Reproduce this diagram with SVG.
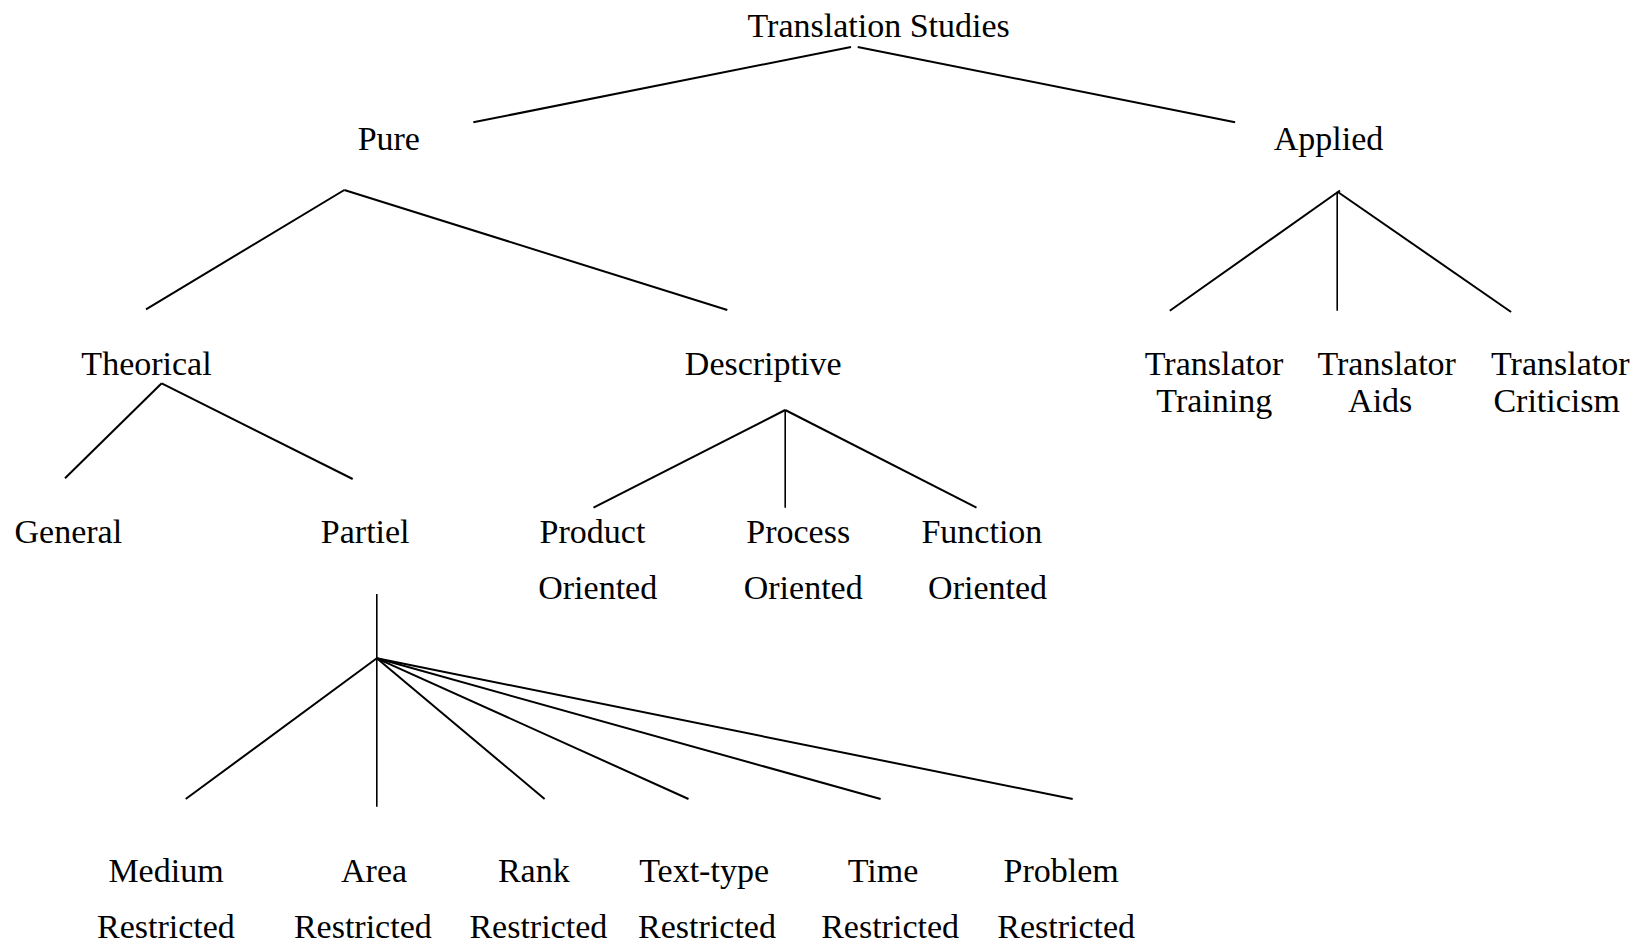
<svg xmlns="http://www.w3.org/2000/svg" width="1639" height="945" viewBox="0 0 1639 945">
<style>
text{font-family:"Liberation Serif","Times New Roman",serif;font-size:34px;fill:#000;text-anchor:middle}
.c line{stroke:#000;stroke-width:2;stroke-linecap:butt}
.c line.v{stroke-width:1.6}
</style>
<rect width="1639" height="945" fill="#fff"/>
<g class="c" id="connectors">
<line x1="851" y1="47" x2="473.3" y2="122.3"/>
<line x1="857.7" y1="47" x2="1235.1" y2="122.3"/>
<line x1="344.3" y1="190" x2="146" y2="309.3"/>
<line x1="344.3" y1="190" x2="727.3" y2="310"/>
<line x1="1340" y1="190.5" x2="1169.8" y2="310.7"/>
<line class="v" x1="1337.2" y1="191.7" x2="1337.2" y2="310.7"/>
<line x1="1337.5" y1="191.7" x2="1511.1" y2="312"/>
<line x1="161.7" y1="383.3" x2="65" y2="478.3"/>
<line x1="161.7" y1="383.3" x2="352.7" y2="479"/>
<line x1="785.2" y1="410" x2="593.5" y2="507.7"/>
<line class="v" x1="785.2" y1="410" x2="785.2" y2="507.7"/>
<line x1="785.2" y1="410" x2="976.5" y2="507.7"/>
<line class="v" x1="376.8" y1="594" x2="376.8" y2="806.7"/>
<line x1="376.8" y1="658.3" x2="185.7" y2="799"/>
<line x1="376.8" y1="658.3" x2="544.6" y2="799"/>
<line x1="376.8" y1="658.3" x2="688.5" y2="799"/>
<line x1="376.8" y1="658.3" x2="880.6" y2="799"/>
<line x1="376.8" y1="658.3" x2="1072.7" y2="799"/>
</g>
<g id="n-translation-studies"><text x="878.7" y="36.7">Translation Studies</text></g>
<g id="n-pure"><text x="388.8" y="150">Pure</text></g>
<g id="n-applied"><text x="1328.5" y="150">Applied</text></g>
<g id="n-theorical"><text x="146.5" y="375">Theorical</text></g>
<g id="n-descriptive"><text x="763.2" y="375">Descriptive</text></g>
<g id="n-translator-training"><text x="1214" y="375">Translator</text><text x="1214.3" y="411.7">Training</text></g>
<g id="n-translator-aids"><text x="1386.7" y="375">Translator</text><text x="1380.2" y="411.7">Aids</text></g>
<g id="n-translator-criticism"><text x="1560.3" y="375">Translator</text><text x="1556.7" y="411.7">Criticism</text></g>
<g id="n-general"><text x="68.3" y="542.7">General</text></g>
<g id="n-partiel"><text x="365.2" y="542.7">Partiel</text></g>
<g id="n-product"><text x="592.5" y="543.3">Product</text><text x="597.7" y="599.3">Oriented</text></g>
<g id="n-process"><text x="798.2" y="543.3">Process</text><text x="803.2" y="599.3">Oriented</text></g>
<g id="n-function"><text x="981.9" y="543.3">Function</text><text x="987.6" y="599.3">Oriented</text></g>
<g id="n-medium"><text x="166" y="881.7">Medium</text><text x="165.9" y="937.7">Restricted</text></g>
<g id="n-area"><text x="374.1" y="881.7">Area</text><text x="362.8" y="937.7">Restricted</text></g>
<g id="n-rank"><text x="533.8" y="881.7">Rank</text><text x="538.3" y="937.7">Restricted</text></g>
<g id="n-text-type"><text x="704.1" y="881.7">Text-type</text><text x="707" y="937.7">Restricted</text></g>
<g id="n-time"><text x="883" y="881.7">Time</text><text x="890.1" y="937.7">Restricted</text></g>
<g id="n-problem"><text x="1061.2" y="881.7">Problem</text><text x="1066.2" y="937.7">Restricted</text></g>
</svg>
